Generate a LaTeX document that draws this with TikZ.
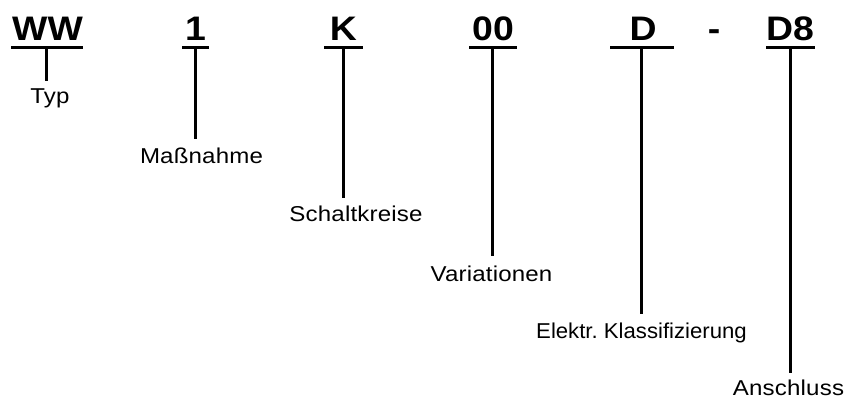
\documentclass[tikz,border=0pt]{standalone}
\usepackage{fontspec}
\setmainfont{Liberation Sans}
\newfontfamily\headfont[FakeStretch=1.1]{Liberation Sans}
\newfontfamily\labfont[FakeStretch=1.12,LetterSpace=0.8]{Liberation Sans}
\newfontfamily\labfonttight[FakeStretch=1.03,LetterSpace=0]{Liberation Sans}
\begin{document}
\begin{tikzpicture}[x=1pt,y=-1pt,
  head/.style={anchor=base,inner sep=0pt,font=\headfont\fontsize{34}{34}\selectfont\bfseries},
  lab/.style={anchor=base,inner sep=0pt,font=\labfont\fontsize{21.5}{22}\selectfont},
  labtight/.style={anchor=base,inner sep=0pt,font=\labfonttight\fontsize{21.5}{22}\selectfont},
  bar/.style={line width=3pt},
  stem/.style={line width=3pt}]
\useasboundingbox (0,0) rectangle (846,398);
% headings
\node[head] (hWW) at (47.5,41) {WW};
\node[head] (h1) at (195.5,41) {1};
\node[head] (hK) at (343.5,41) {K};
\node[head] (h00) at (493,41) {00};
\node[head] (hD) at (643,41) {D};
\node[head] (hdash) at (714,41) {-};
\node[head] (hD8) at (790,41) {D8};
% bars
\coordinate (bWWl) at (11,48); \coordinate (bWWr) at (83,48);
\coordinate (b1l) at (182,48); \coordinate (b1r) at (209,48);
\coordinate (bKl) at (324,48); \coordinate (bKr) at (363,48);
\coordinate (b00l) at (469,48); \coordinate (b00r) at (517,48);
\coordinate (bDl) at (610,48); \coordinate (bDr) at (674,48);
\coordinate (bD8l) at (766,48); \coordinate (bD8r) at (815,48);
\draw[bar] (bWWl) -- (bWWr);
\draw[bar] (b1l) -- (b1r);
\draw[bar] (bKl) -- (bKr);
\draw[bar] (b00l) -- (b00r);
\draw[bar] (bDl) -- (bDr);
\draw[bar] (bD8l) -- (bD8r);
% labels
\node[lab] (lTyp) at (50,104) {Typ};
\node[lab] (lMas) at (201.5,164) {Maßnahme};
\node[lab] (lSch) at (356,222) {Schaltkreise};
\node[lab] (lVar) at (491.5,281) {Variationen};
\node[labtight] (lEle) at (641.5,338) {Elektr.\hspace{-2pt} Klassifizierung};
\node[lab] (lAns) at (788.5,395) {Anschluss};
% stems
\coordinate (sWWt) at (46,48);  \coordinate (sWWb) at (46,81);
\coordinate (s1t) at (195,48);  \coordinate (s1b) at (195,139);
\coordinate (sKt) at (343,48);  \coordinate (sKb) at (343,198);
\coordinate (s00t) at (492,48); \coordinate (s00b) at (492,256);
\coordinate (sDt) at (641,48);  \coordinate (sDb) at (641,314);
\coordinate (sD8t) at (790,48); \coordinate (sD8b) at (790,373);
\draw[stem] (sWWt) -- (sWWb);
\draw[stem] (s1t) -- (s1b);
\draw[stem] (sKt) -- (sKb);
\draw[stem] (s00t) -- (s00b);
\draw[stem] (sDt) -- (sDb);
\draw[stem] (sD8t) -- (sD8b);
\end{tikzpicture}
\end{document}
